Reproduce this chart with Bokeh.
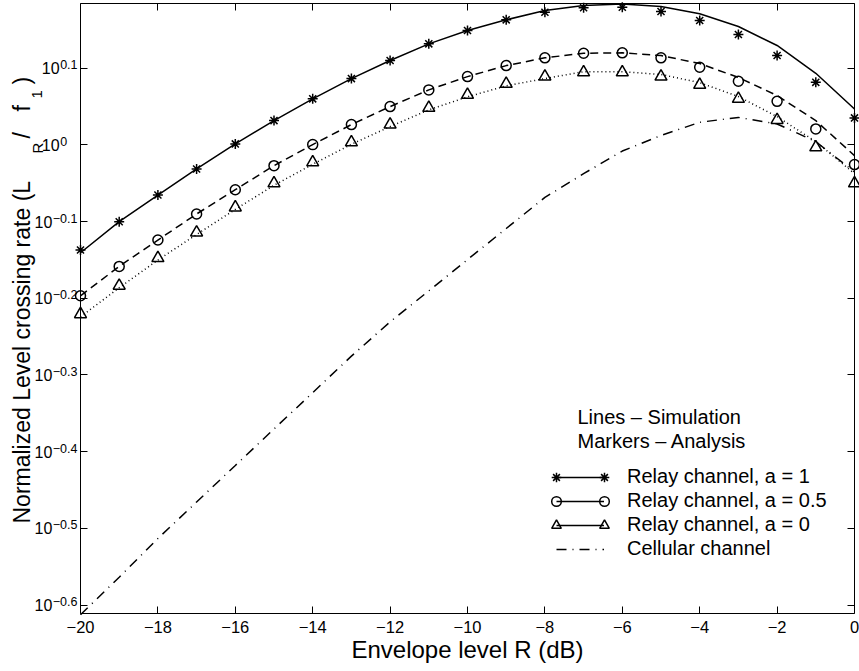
import math
from bokeh.plotting import figure
from bokeh.models import (Range1d, FixedTicker, LinearAxis, LogAxis, Label,
                          Legend, LegendItem)
from bokeh.embed import file_html
from bokeh.resources import INLINE

# ---------------- data ----------------
envelope_db = [-20, -19, -18, -17, -16, -15, -14, -13, -12, -11, -10,
               -9, -8, -7, -6, -5, -4, -3, -2, -1, 0]

relay_a1_analysis = [0.7293, 0.7941, 0.8603, 0.9304, 1.0030, 1.0757, 1.1484,
                     1.2204, 1.2883, 1.3546, 1.4097, 1.4559, 1.4896, 1.5096,
                     1.5121, 1.4928, 1.4529, 1.3932, 1.3078, 1.2067, 1.0844]
relay_a05_analysis = [0.6357, 0.6944, 0.7516, 0.8127, 0.8742, 0.9397, 1.0009,
                      1.0629, 1.1220, 1.1797, 1.2277, 1.2689, 1.2988, 1.3169,
                      1.3185, 1.2988, 1.2625, 1.2106, 1.1399, 1.0493, 0.9426]
relay_a0_analysis = [0.6016, 0.6552, 0.7120, 0.7688, 0.8289, 0.8911, 0.9491,
                     1.0079, 1.0629, 1.1176, 1.1623, 1.2011, 1.2277, 1.2433,
                     1.2433, 1.2277, 1.1975, 1.1484, 1.0779, 0.9929, 0.8911]

relay_a1_sim = [0.7234, 0.7941, 0.8603, 0.9304, 1.0030, 1.0757, 1.1484,
                1.2204, 1.2883, 1.3546, 1.4097, 1.4559, 1.4970, 1.5200,
                1.5270, 1.5150, 1.4826, 1.4270, 1.3480, 1.2400, 1.1140]
relay_a05_sim = [0.6357, 0.6944, 0.7516, 0.8127, 0.8742, 0.9397, 1.0009,
                 1.0629, 1.1220, 1.1797, 1.2277, 1.2689, 1.2988, 1.3169,
                 1.3185, 1.3078, 1.2768, 1.2245, 1.1599, 1.0757, 0.9683]
relay_a0_sim = [0.5967, 0.6513, 0.7078, 0.7642, 0.8240, 0.8858, 0.9435,
                1.0019, 1.0566, 1.1110, 1.1554, 1.1940, 1.2205, 1.2459,
                1.2459, 1.2356, 1.2056, 1.1563, 1.0886, 1.0099, 0.9173]
cellular_sim = [0.2440, 0.2731, 0.3068, 0.3423, 0.3819, 0.4262, 0.4753,
                0.5304, 0.5879, 0.6452, 0.7087, 0.7780, 0.8542, 0.9173,
                0.9818, 1.0287, 1.0703, 1.0861, 1.0650, 1.0100, 0.9220]

x_ticks = [-20, -18, -16, -14, -12, -10, -8, -6, -4, -2, 0]
x_tick_labels = ["−20", "−18", "−16", "−14", "−12", "−10", "−8", "−6",
                 "−4", "−2", "0"]
y_tick_exponents = [-0.6, -0.5, -0.4, -0.3, -0.2, -0.1, 0.0, 0.1]
y_tick_exponent_labels = ["−0.6", "−0.5", "−0.4", "−0.3", "−0.2", "−0.1",
                          "0", "0.1"]

legend_labels = ["Relay channel, a = 1", "Relay channel, a = 0.5",
                 "Relay channel, a = 0", "Cellular channel"]
note_lines = ["Lines – Simulation", "Markers – Analysis"]

x_label = "Envelope level R (dB)"
y_label_parts = ["Normalized Level crossing rate (L", "R", "/", "f", "1", ")"]

x_lo, x_hi = -20, 0
y_lo, y_hi = 0.2449, 1.529

# ---------------- layout (pixels of the 859 x 671 canvas) ----------------
W, H = 859, 671
FL, FR, FT, FB = 80, 854, 3, 613          # box of the axes
FONT = "Liberation Sans"
INK = "black"
CHAR_W = {".": 0.278, "−": 0.584}
for d in "0123456789":
    CHAR_W[d] = 0.556


def text_width(s, px):
    return sum(CHAR_W.get(c, 0.556) for c in s) * px


# the plotting frame covers the whole canvas; axes are pinned at the box edges
ppx = (FR - FL) / (x_hi - x_lo)
x_start = x_lo - FL / ppx
x_end = x_hi + (W - FR) / ppx
dec = math.log10(y_hi / y_lo)
ppd = (FB - FT) / dec
y_start = 10 ** (math.log10(y_lo) - (H - FB) / ppd)
y_end = 10 ** (math.log10(y_hi) + FT / ppd)

y_ticks = [10 ** e for e in y_tick_exponents]

p = figure(width=W, height=H, output_backend="svg", toolbar_location=None,
           x_range=Range1d(x_start, x_end), y_range=Range1d(y_start, y_end),
           y_axis_type="log",
           min_border_left=0, min_border_right=0, min_border_top=0,
           min_border_bottom=0)
p.min_border = 0
p.grid.visible = False
p.background_fill_color = "white"
p.border_fill_color = "white"
p.outline_line_color = None

hidden_labels = dict(major_label_text_font_size="0px", major_label_text_color=None,
                     major_label_standoff=0)

# bottom axis
xa = p.xaxis[0]
xa.fixed_location = y_lo
xa.bounds = (x_lo, x_hi)
xa.ticker = FixedTicker(ticks=x_ticks)
xa.major_label_overrides = {t: l for t, l in zip(x_ticks, x_tick_labels)}
xa.major_label_text_font = FONT
xa.major_label_text_font_size = "16.5px"
xa.major_label_text_color = INK
xa.major_label_standoff = 7
xa.major_tick_in = 7
xa.major_tick_out = 0
xa.minor_tick_line_color = None
xa.axis_line_color = INK
xa.major_tick_line_color = INK
xa.axis_label = x_label
xa.axis_label_text_font = FONT
xa.axis_label_text_font_size = "24px"
xa.axis_label_text_font_style = "normal"
xa.axis_label_text_color = INK
xa.axis_label_standoff = 0

# left axis (its 10^x labels are drawn as separate texts)
ya = p.yaxis[0]
ya.fixed_location = x_lo
ya.bounds = (y_lo, y_hi)
ya.ticker = FixedTicker(ticks=y_ticks)
ya.major_tick_in = 7
ya.major_tick_out = 0
ya.minor_tick_line_color = None
ya.axis_line_color = INK
ya.major_tick_line_color = INK
for k, v in hidden_labels.items():
    setattr(ya, k, v)

# mirrored box with ticks on top and right
top = LinearAxis(fixed_location=y_hi, bounds=(x_lo, x_hi),
                 ticker=FixedTicker(ticks=x_ticks), major_tick_in=7,
                 major_tick_out=0, minor_tick_line_color=None,
                 axis_line_color=INK, major_tick_line_color=INK, **hidden_labels)
p.add_layout(top, "above")
right = LogAxis(fixed_location=x_hi, bounds=(y_lo, y_hi),
                ticker=FixedTicker(ticks=y_ticks), major_tick_in=7,
                major_tick_out=0, minor_tick_line_color=None,
                axis_line_color=INK, major_tick_line_color=INK, **hidden_labels)
p.add_layout(right, "right")

# ---------------- data renderers ----------------
r_a1 = p.line(envelope_db, relay_a1_sim, line_color=INK, line_width=1.5)
r_a05 = p.line(envelope_db, relay_a05_sim, line_color=INK, line_width=1.5,
               line_dash="8 5")
r_a0 = p.line(envelope_db, relay_a0_sim, line_color=INK, line_width=1.5,
              line_dash="1 3")
r_cell = p.line(envelope_db, cellular_sim, line_color=INK, line_width=1.5,
                line_dash="10 6 1 6")

s_a1 = p.scatter(envelope_db, relay_a1_analysis, marker="asterisk", size=10,
                 line_color=INK, line_width=1.5)
s_a05 = p.scatter(envelope_db, relay_a05_analysis, marker="circle", size=10,
                  line_color=INK, fill_color=None, line_width=1.5)
s_a0 = p.scatter(envelope_db, relay_a0_analysis, marker="triangle", size=12,
                 line_color=INK, fill_color=None, line_width=1.5)

# legend-only sample renderers (placed left of the visible range)
d_solid = p.line([x_start - 10, x_start - 9], [1, 1], line_color=INK, line_width=1.5)
d_blank = p.scatter([x_start - 10], [1], line_alpha=0, fill_alpha=0)

leg_rows_top = 464.7           # canvas y of the legend's top
row_h = 24
leg_y = H - (leg_rows_top + 4 * row_h)
legend_common = dict(glyph_height=row_h, label_height=row_h, spacing=0, padding=0,
                     margin=0, border_line_color=None, background_fill_alpha=0,
                     label_text_font=FONT, label_text_font_size="20px")
leg_lines = Legend(items=[
    LegendItem(label=legend_labels[0], renderers=[d_solid]),
    LegendItem(label=legend_labels[1], renderers=[d_solid]),
    LegendItem(label=legend_labels[2], renderers=[d_solid]),
    LegendItem(label=legend_labels[3], renderers=[r_cell]),
], location=(556, leg_y), glyph_width=48, label_standoff=23,
    label_text_color=INK, **legend_common)
marker_items = lambda: [LegendItem(label=" ", renderers=[r]) for r in
                        (s_a1, s_a05, s_a0, d_blank)]
leg_left = Legend(items=marker_items(), location=(556 - 12, leg_y), glyph_width=24,
                  label_standoff=0, label_text_color=None, **legend_common)
leg_right = Legend(items=marker_items(), location=(604 - 12, leg_y), glyph_width=24,
                   label_standoff=0, label_text_color=None, **legend_common)
for lg in (leg_lines, leg_left, leg_right):
    p.add_layout(lg)

# note text
for i, t in enumerate(note_lines):
    p.add_layout(Label(x=577, y=H - 416.7 - 23.3 * i, x_units="screen",
                       y_units="screen", text=t, text_font=FONT,
                       text_font_size="20px", text_color=INK, text_align="left",
                       text_baseline="alphabetic"))

# y tick labels 10^x
exp_px = 12.5
for e, lab in zip(y_tick_exponents, y_tick_exponent_labels):
    yv = 10 ** e
    base_right = FL - 3.5 - max(text_width(lab, exp_px), text_width("0.1", exp_px))
    p.add_layout(Label(x=base_right + 0.5, y=yv, x_units="screen", y_units="data",
                       text=lab, text_font=FONT, text_font_size=f"{exp_px}px",
                       text_color=INK, text_align="left",
                       text_baseline="alphabetic", y_offset=3.5))
    p.add_layout(Label(x=base_right, y=yv, x_units="screen", y_units="data",
                       text="10", text_font=FONT, text_font_size="16px",
                       text_color=INK, text_align="right", text_baseline="middle"))

# y axis label with subscripts (rotated, reads bottom to top)
ylab_spec = [  # (part, canvas y where it starts, x anchor, size)
    (0, 523, 21, "23px"),
    (1, 153, 36.5, "15px"),
    (2, 138, 21, "23px"),
    (3, 111, 21, "23px"),
    (4, 98, 36.5, "15px"),
    (5, 84, 21, "23px"),
]
for idx, ys, xs, fs in ylab_spec:
    p.add_layout(Label(x=xs, y=H - ys, x_units="screen", y_units="screen",
                       text=y_label_parts[idx], angle=math.pi / 2,
                       text_font=FONT, text_font_size=fs, text_color=INK,
                       text_align="left", text_baseline="alphabetic"))

open("out.html", "w").write(file_html(p, INLINE))
